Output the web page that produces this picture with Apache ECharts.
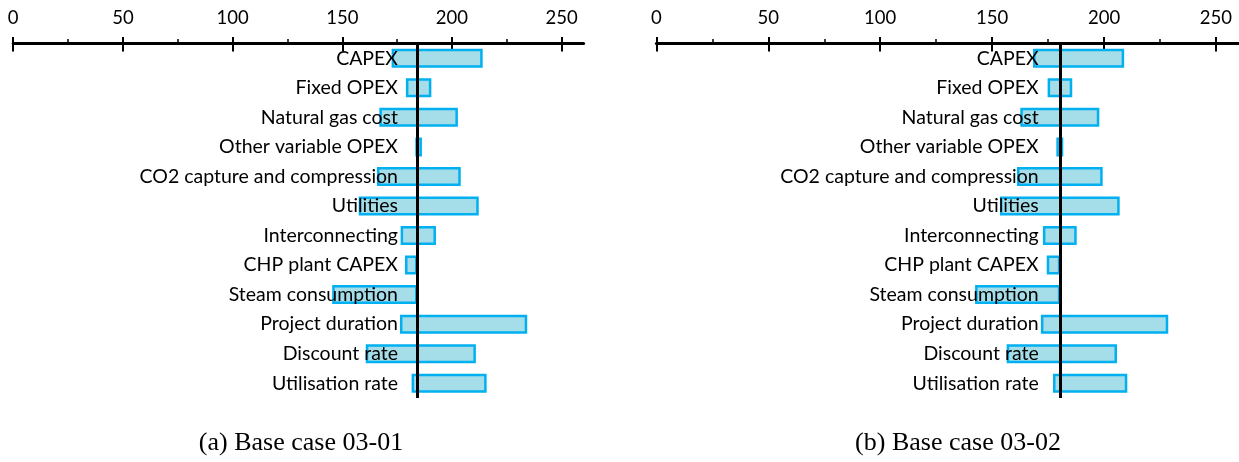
<!DOCTYPE html>
<html>
<head>
<meta charset="utf-8">
<title>Tornado charts</title>
<script src="https://cdn.jsdelivr.net/npm/echarts@6/dist/echarts.min.js"></script>
<style>
  html, body { margin: 0; padding: 0; background: #ffffff; }
  #chart { width: 1239px; height: 462px; }
</style>
</head>
<body>
<div id="chart"></div>
<script>
// Sensitivity factors, listed top to bottom
const categories = [
  'CAPEX', 'Fixed OPEX', 'Natural gas cost', 'Other variable OPEX',
  'CO2 capture and compression', 'Utilities', 'Interconnecting',
  'CHP plant CAPEX', 'Steam consumption', 'Project duration',
  'Discount rate', 'Utilisation rate'
];

// Base case 03-01: low / high result for each factor
const baseA = 184.3;
const lowA  = [172.5, 179.0, 166.9, 183.3, 165.8, 157.5, 176.6, 178.6, 145.4, 176.3, 160.7, 181.6];
const highA = [214.0, 190.6, 202.7, 186.3, 204.0, 212.2, 192.7, 184.3, 184.3, 234.3, 210.9, 215.8];

// Base case 03-02: low / high result for each factor
const baseB = 180.5;
const lowB  = [168.3, 174.8, 162.6, 178.7, 161.1, 153.5, 172.7, 174.4, 142.4, 171.8, 156.5, 177.2];
const highB = [209.0, 185.8, 197.9, 181.8, 199.4, 207.0, 187.8, 180.5, 180.5, 228.7, 205.8, 210.4];

const majorTicks = [0, 50, 100, 150, 200, 250];
const minorTicks = [0, 25, 50, 75, 100, 125, 150, 175, 200, 225, 250];
const axisMax = 260;

const captions = ['(a) Base case 03-01', '(b) Base case 03-02'];

const labelFont = 'Lato, "Open Sans", sans-serif';
const fillColor = '#a5dde9';
const edgeColor = '#00b0f0';

const panels = [
  { low: lowA, high: highA, base: baseA, left: 13.2, width: 570.4, labelRight: 398, caption: captions[0], capX: 301 },
  { low: lowB, high: highB, base: baseB, left: 656.4, width: 581.9, labelRight: 1038.7, caption: captions[1], capX: 958 }
];

const grid = [], xAxis = [], yAxis = [], series = [], graphic = [];

panels.forEach((p, g) => {
  grid.push({ left: p.left, width: p.width, top: 43.5, height: 354.5, outerBoundsMode: 'none', containLabel: false });

  // main axis: line, labels and short upward ticks every 25
  xAxis.push({
    type: 'value', gridIndex: g, position: 'top', min: 0, max: axisMax,
    axisLine: { show: true, lineStyle: { color: '#000', width: 3 } },
    axisTick: { show: true, customValues: minorTicks, length: 4.5, inside: false, lineStyle: { color: '#000', width: 1.5 } },
    axisLabel: { show: true, customValues: majorTicks, margin: 16, color: '#000', fontFamily: labelFont, fontSize: 18.5 },
    splitLine: { show: false }
  });
  // longer upward ticks at the labelled values
  xAxis.push({
    type: 'value', gridIndex: g, position: 'top', min: 0, max: axisMax,
    axisLine: { show: false },
    axisTick: { show: true, customValues: majorTicks, length: 6.5, inside: false, lineStyle: { color: '#000', width: 2 } },
    axisLabel: { show: false }, splitLine: { show: false }
  });
  // downward part of the labelled ticks
  xAxis.push({
    type: 'value', gridIndex: g, position: 'top', min: 0, max: axisMax,
    axisLine: { show: false },
    axisTick: { show: true, customValues: majorTicks, length: 8, inside: true, lineStyle: { color: '#000', width: 2 } },
    axisLabel: { show: false }, splitLine: { show: false }
  });

  yAxis.push({
    type: 'category', gridIndex: g, data: categories, inverse: true, position: 'left', z: 10,
    axisLine: { show: false }, axisTick: { show: false }, splitLine: { show: false },
    axisLabel: { margin: p.left - p.labelRight, color: '#000', fontFamily: labelFont, fontSize: 19.5, align: 'right' }
  });

  const xi = g * 3;
  series.push({
    type: 'bar', name: 'offset' + g, xAxisIndex: xi, yAxisIndex: g, stack: 'span' + g,
    data: p.low, barWidth: 19, silent: true,
    itemStyle: { color: 'rgba(0,0,0,0)', borderWidth: 0 }
  });
  series.push({
    type: 'bar', name: 'range' + g, xAxisIndex: xi, yAxisIndex: g, stack: 'span' + g,
    data: p.high.map((h, i) => +(h - p.low[i]).toFixed(2)), barWidth: 19, silent: true,
    itemStyle: { color: fillColor, borderColor: edgeColor, borderWidth: 2.5 },
    markLine: {
      silent: true, symbol: 'none', animation: false,
      label: { show: false },
      lineStyle: { color: '#000', width: 3, type: 'solid' },
      data: [{ xAxis: p.base }]
    }
  });

  graphic.push({
    type: 'text', x: p.capX, y: 443,
    style: { text: p.caption, align: 'center', verticalAlign: 'middle', fill: '#000',
             font: '26px "Liberation Serif", "Times New Roman", serif' }
  });
});

const chart = echarts.init(document.getElementById('chart'), null, { renderer: 'canvas' });
chart.setOption({
  animation: false,
  backgroundColor: '#ffffff',
  grid, xAxis, yAxis, series, graphic,
  tooltip: { show: false }
});
</script>
</body>
</html>
